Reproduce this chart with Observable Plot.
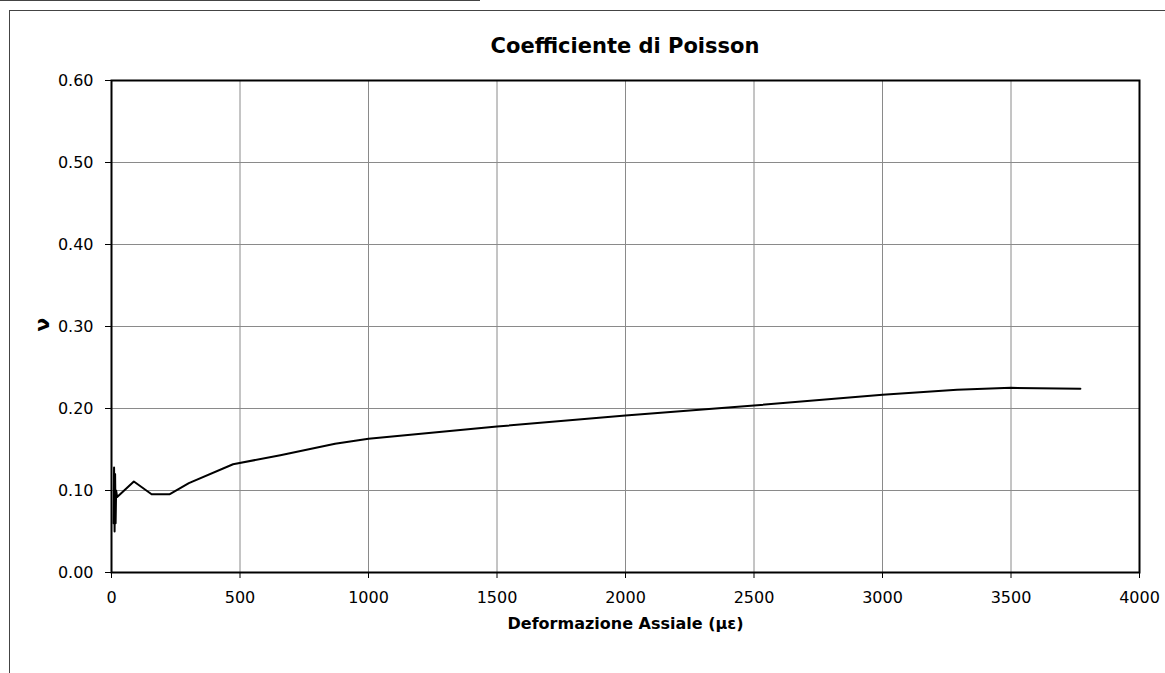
<!DOCTYPE html>
<html>
<head>
<meta charset="utf-8">
<script src="https://cdn.jsdelivr.net/npm/d3@7"></script>
<script src="https://cdn.jsdelivr.net/npm/@observablehq/plot@0.6"></script>
<style>
  html, body { margin: 0; padding: 0; background: #fff; }
  body { width: 1165px; height: 673px; position: relative; overflow: hidden; font-family: "DejaVu Sans", sans-serif; }
  #title { position: absolute; left: 111px; width: 1028px; top: 34px; text-align: center; font-weight: bold; font-size: 21px; color: #000; }
  #chart { position: absolute; left: 0; top: 66px; }
  .bline { position: absolute; background: #444; }
</style>
</head>
<body>
<div class="bline" style="left:0;top:0;width:480px;height:1px;"></div>
<div class="bline" style="left:9px;top:10px;width:1156px;height:1px;"></div>
<div class="bline" style="left:9px;top:10px;width:1px;height:663px;"></div>
<div id="title">Coefficiente di Poisson</div>
<div id="chart"></div>
<script>
const strain = [8, 10, 12, 14, 16, 18, 22, 87, 156, 227, 301, 473, 657, 870, 1000, 1500, 2000, 2500, 3000, 3290, 3500, 3770];
const poisson = [0.06, 0.128, 0.05, 0.12, 0.06, 0.10, 0.092, 0.111, 0.0955, 0.0955, 0.109, 0.132, 0.143, 0.157, 0.163, 0.178, 0.1915, 0.2037, 0.2167, 0.2228, 0.2252, 0.224];
const xTicks = [0, 500, 1000, 1500, 2000, 2500, 3000, 3500, 4000];
const yTicks = [0, 0.1, 0.2, 0.3, 0.4, 0.5, 0.6];
const xLabel = "Deformazione Assiale (με)";
const yLabel = "ν";

const data = strain.map((s, i) => ({strain: s, nu: poisson[i]}));

const chart = Plot.plot({
  width: 1165,
  height: 607,
  marginLeft: 111,
  marginRight: 26,
  marginTop: 14,
  marginBottom: 101,
  style: {fontFamily: "'DejaVu Sans', sans-serif", fontSize: "16px", color: "#000", background: "transparent"},
  x: {domain: [0, 4000], ticks: xTicks, tickFormat: "d", label: null, tickSize: 6, tickPadding: 13},
  y: {domain: [0, 0.6], ticks: yTicks, tickFormat: ".2f", label: null, tickSize: 6, tickPadding: 12},
  marks: [
    Plot.gridX(xTicks, {stroke: "#8a8a8a", strokeOpacity: 1, strokeWidth: 1}),
    Plot.gridY(yTicks, {stroke: "#8a8a8a", strokeOpacity: 1, strokeWidth: 1}),
    Plot.frame({stroke: "#000", strokeWidth: 2}),
    Plot.line(data, {x: "strain", y: "nu", stroke: "#000", strokeWidth: 2}),
    Plot.text([xLabel], {text: d => d, frameAnchor: "bottom", dy: 51, lineAnchor: "middle", fontWeight: "bold", fontSize: 16, fill: "#000"}),
    Plot.text([yLabel], {text: d => d, frameAnchor: "left", dx: -69, dy: 5, rotate: -90, lineAnchor: "middle", fontWeight: "bold", fontSize: 20, fill: "#000"})
  ]
});
document.getElementById("chart").appendChild(chart);
</script>
</body>
</html>
